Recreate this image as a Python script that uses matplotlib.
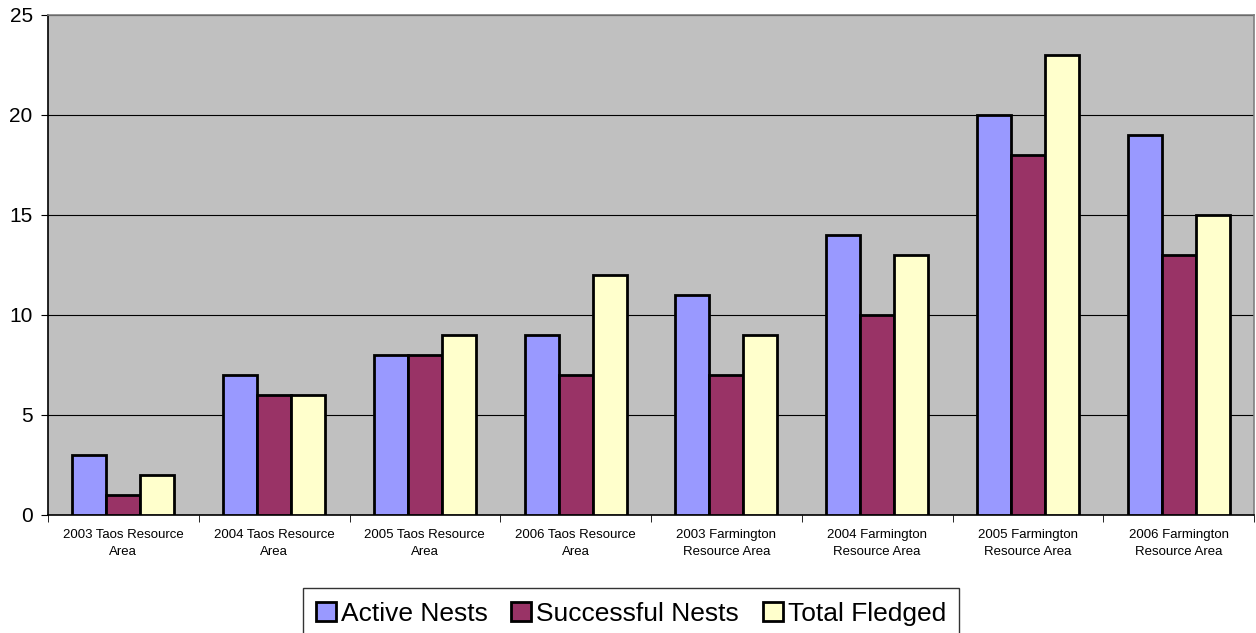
import matplotlib
matplotlib.use("Agg")
import matplotlib.pyplot as plt
import numpy as np

plt.rcParams["font.family"] = ["Liberation Sans", "DejaVu Sans"]

categories = [
    "2003 Taos Resource\nArea",
    "2004 Taos Resource\nArea",
    "2005 Taos Resource\nArea",
    "2006 Taos Resource\nArea",
    "2003 Farmington\nResource Area",
    "2004 Farmington\nResource Area",
    "2005 Farmington\nResource Area",
    "2006 Farmington\nResource Area",
]
active_nests = [3, 7, 8, 9, 11, 14, 20, 19]
successful_nests = [1, 6, 8, 7, 7, 10, 18, 13]
total_fledged = [2, 6, 9, 12, 9, 13, 23, 15]

series = [
    ("Active Nests", active_nests, "#9999FF"),
    ("Successful Nests", successful_nests, "#993366"),
    ("Total Fledged", total_fledged, "#FFFFCC"),
]

fig = plt.figure(figsize=(12.56, 6.33), dpi=100)
ax = fig.add_axes([48 / 1256, 1 - 515 / 633, (1254 - 48) / 1256, (515 - 15) / 633])
ax.set_facecolor("#C0C0C0")

x = np.arange(len(categories))
w = 0.225
for i, (name, vals, col) in enumerate(series):
    ax.bar(x + (i - 1) * w, vals, w, color=col, edgecolor="black", linewidth=2,
           label=name, zorder=3)

ax.set_xlim(-0.5, len(categories) - 0.5)
ax.set_ylim(0, 25)
ax.set_yticks([0, 5, 10, 15, 20, 25])
ax.tick_params(axis="y", labelsize=15, length=5, direction="out", pad=6)
ax.yaxis.grid(True, color="black", linewidth=0.8, zorder=0)
ax.set_axisbelow(True)

ax.set_xticks(x)
ax.set_xticklabels(categories, fontsize=9.5, linespacing=1.6)
ax.tick_params(axis="x", length=0, pad=10)
ax.set_xticks(np.arange(len(categories) + 1) - 0.5, minor=True)
ax.tick_params(axis="x", which="minor", length=5, direction="out")

for s in ["left", "bottom"]:
    ax.spines[s].set_color("black")
    ax.spines[s].set_linewidth(1.2)
for s in ["top", "right"]:
    ax.spines[s].set_color("#808080")
    ax.spines[s].set_linewidth(1.2)

leg = fig.legend(loc="lower center", bbox_to_anchor=(631 / 1256, -19 / 633), ncol=3,
                 fontsize=19, frameon=True, fancybox=False, edgecolor="black",
                 handlelength=0.75, handleheight=0.75, handletextpad=0.2,
                 columnspacing=0.9, borderpad=0.5, borderaxespad=0.5)
leg.get_frame().set_linewidth(1)

fig.savefig("out.png", dpi=100)
